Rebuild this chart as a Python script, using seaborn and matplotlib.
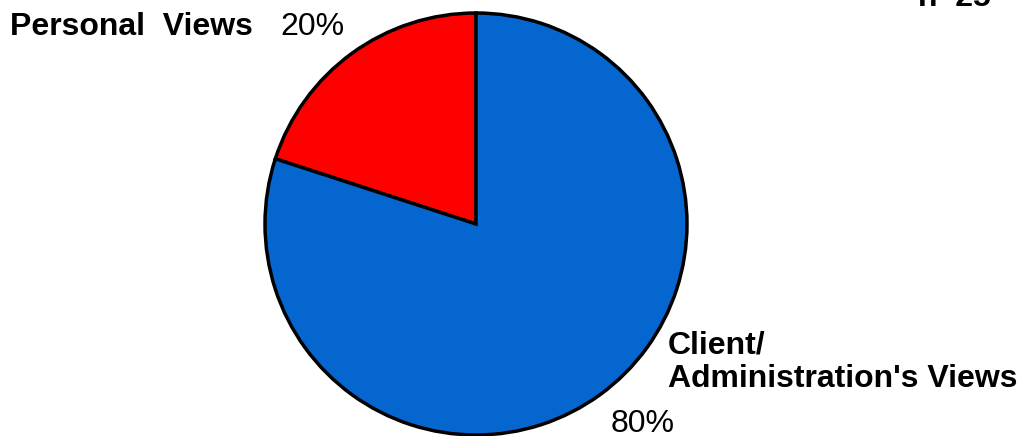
import matplotlib
matplotlib.use("Agg")
import matplotlib.pyplot as plt
import seaborn as sns

# Share of responses by whose views were represented
categories = ["Personal  Views", "Client/\nAdministration's Views"]
shares = [20, 80]
pct_labels = ["20%", "80%"]
sample_label = "n=25"

sns.set_theme(style="white")
plt.rcParams["font.family"] = ["Liberation Sans", "DejaVu Sans"]
plt.rcParams["text.color"] = "black"

W, H = 1026, 436
fig = plt.figure(figsize=(W / 100, H / 100), dpi=100)
ax = fig.add_axes([0, 0, 1, 1])

colors = ["#FF0000", "#0566D0"]
ax.pie(shares, colors=colors, startangle=90, counterclock=True,
       center=(476, H - 224), radius=211,
       wedgeprops=dict(edgecolor="black", linewidth=2.5))
ax.set_xlim(0, W)
ax.set_ylim(0, H)
ax.set_aspect("equal")
ax.axis("off")

fs = 23
# Personal views label
ax.text(10, H - 35, categories[0], fontsize=fs, fontweight="bold",
        ha="left", va="baseline")
ax.text(280, H - 35, pct_labels[0], fontsize=fs, ha="left", va="baseline")

# Client / administration label
ax.text(668, H - 387, categories[1], fontsize=fs, fontweight="bold",
        ha="left", va="baseline", linespacing=1.15)
ax.text(611, H - 432, pct_labels[1], fontsize=fs, ha="left", va="baseline")

# Sample size in the top-right corner
ax.text(918, H - 6, sample_label, fontsize=fs, fontweight="bold",
        ha="left", va="baseline")

fig.savefig("out.png", dpi=100)
